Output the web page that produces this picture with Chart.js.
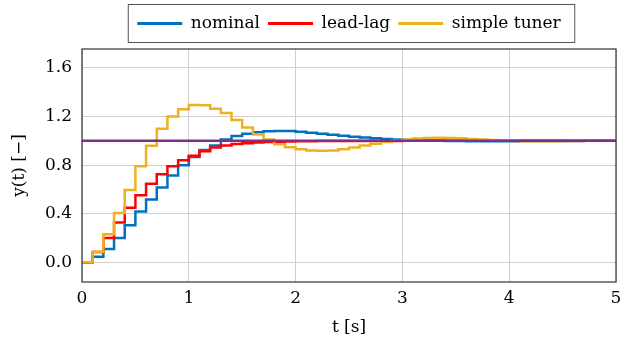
<!DOCTYPE html>
<html>
<head>
<meta charset="utf-8">
<script src="https://cdn.jsdelivr.net/npm/chart.js@4.4.0/dist/chart.umd.min.js"></script>
<style>
  html, body { margin: 0; padding: 0; background: #fff; }
  #wrap { width: 620px; height: 347px; }
</style>
</head>
<body>
<div id="wrap"><canvas id="stepChart"></canvas></div>
<script>
// sample times [s], one sample every 0.1 s
const time = [0, 0.1, 0.2, 0.3, 0.4, 0.5, 0.6, 0.7, 0.8, 0.9,
  1.0, 1.1, 1.2, 1.3, 1.4, 1.5, 1.6, 1.7, 1.8, 1.9,
  2.0, 2.1, 2.2, 2.3, 2.4, 2.5, 2.6, 2.7, 2.8, 2.9,
  3.0, 3.1, 3.2, 3.3, 3.4, 3.5, 3.6, 3.7, 3.8, 3.9,
  4.0, 4.1, 4.2, 4.3, 4.4, 4.5, 4.6, 4.7, 4.8, 4.9, 5.0];

const nominal = [0, 0.045, 0.11, 0.20, 0.305, 0.418, 0.518, 0.616, 0.714, 0.800,
  0.867, 0.925, 0.962, 1.012, 1.040, 1.058, 1.070, 1.078, 1.081, 1.080,
  1.075, 1.067, 1.059, 1.050, 1.042, 1.034, 1.027, 1.021, 1.016, 1.011,
  1.007, 1.004, 1.002, 1.000, 0.999, 0.998, 0.997, 0.997, 0.997, 0.997,
  0.997, 0.998, 0.998, 0.998, 0.999, 0.999, 0.999, 1.000, 1.000, 1.000, 1.000];

const leadLag = [0, 0.085, 0.200, 0.328, 0.450, 0.553, 0.646, 0.725, 0.790, 0.840,
  0.877, 0.915, 0.945, 0.962, 0.973, 0.981, 0.986, 0.990, 0.993, 0.995,
  0.996, 0.997, 0.998, 0.998, 0.999, 0.999, 0.999, 0.999, 0.999, 0.999,
  1.000, 1.000, 1.000, 1.000, 1.000, 1.000, 1.000, 1.000, 1.000, 1.000,
  1.000, 1.000, 1.000, 1.000, 1.000, 1.000, 1.000, 1.000, 1.000, 1.000, 1.000];

const simpleTuner = [0, 0.085, 0.232, 0.407, 0.595, 0.790, 0.960, 1.100, 1.200, 1.260,
  1.295, 1.293, 1.265, 1.230, 1.172, 1.110, 1.052, 1.010, 0.972, 0.948,
  0.930, 0.921, 0.918, 0.921, 0.931, 0.945, 0.962, 0.977, 0.990, 1.002,
  1.012, 1.019, 1.023, 1.025, 1.024, 1.021, 1.016, 1.011, 1.006, 1.002,
  0.999, 0.997, 0.996, 0.996, 0.997, 0.998, 0.999, 1.000, 1.000, 1.001, 1.001];

const refTime = [0, 5];
const reference = [1, 1];

const xTicks = [0, 1, 2, 3, 4, 5];
const yTicks = [0, 0.4, 0.8, 1.2, 1.6];

function toPoints(xs, ys) {
  return xs.map((x, i) => ({ x: x, y: ys[i] }));
}

const serif = 'DejaVu Serif';

// extra room under the legend, so the plot starts a bit lower
const legendGap = {
  id: 'legendGap',
  afterInit(chart) {
    const lg = chart.legend;
    const fit = lg.fit;
    lg.fit = function () {
      fit.call(this);
      this.height += 7;
    };
  }
};

// box around the plot area and around the legend
const frameBox = {
  id: 'frameBox',
  afterDraw(chart) {
    const ctx = chart.ctx;
    const a = chart.chartArea;
    ctx.save();
    ctx.strokeStyle = '#333';
    ctx.lineWidth = 1.2;
    ctx.strokeRect(a.left, a.top, a.right - a.left, a.bottom - a.top);

    const hb = chart.legend.legendHitBoxes;
    if (hb && hb.length) {
      const l = Math.min(...hb.map(b => b.left));
      const r = Math.max(...hb.map(b => b.left + b.width));
      const cy = hb[0].top + hb[0].height / 2;
      ctx.strokeStyle = '#555';
      ctx.lineWidth = 1;
      ctx.strokeRect(l - 9, cy - 19, r - l + 23, 38);
    }
    ctx.restore();
  }
};

const ctx = document.getElementById('stepChart').getContext('2d');
new Chart(ctx, {
  type: 'line',
  data: {
    datasets: [
      {
        label: 'nominal',
        data: toPoints(time, nominal),
        borderColor: '#0072BD',
        backgroundColor: '#0072BD',
        borderWidth: 2.5,
        stepped: true,
        pointRadius: 0,
        order: 3
      },
      {
        label: 'lead-lag',
        data: toPoints(time, leadLag),
        borderColor: '#FF0000',
        backgroundColor: '#FF0000',
        borderWidth: 2.5,
        stepped: true,
        pointRadius: 0,
        order: 2
      },
      {
        label: 'simple tuner',
        data: toPoints(time, simpleTuner),
        borderColor: '#EDB120',
        backgroundColor: '#EDB120',
        borderWidth: 2.5,
        stepped: true,
        pointRadius: 0,
        order: 1
      },
      {
        label: 'reference',
        data: toPoints(refTime, reference),
        borderColor: '#7E2F8E',
        backgroundColor: '#7E2F8E',
        borderWidth: 2.5,
        pointRadius: 0,
        order: 0
      }
    ]
  },
  options: {
    responsive: true,
    maintainAspectRatio: false,
    animation: false,
    layout: { padding: { left: 0, right: 4, top: 7, bottom: 0 } },
    plugins: {
      tooltip: { enabled: false },
      legend: {
        position: 'top',
        fullSize: false,
        labels: {
          boxWidth: 45,
          boxHeight: 3,
          padding: 8,
          color: '#000',
          font: { family: serif, size: 17 },
          filter: item => item.datasetIndex < 3,
          sort: (a, b) => a.datasetIndex - b.datasetIndex,
          generateLabels(chart) {
            const items = Chart.defaults.plugins.legend.labels.generateLabels(chart);
            items.forEach(it => { it.lineWidth = 0; });
            return items;
          }
        }
      }
    },
    scales: {
      x: {
        type: 'linear',
        min: 0,
        max: 5,
        afterBuildTicks: s => { s.ticks = xTicks.map(v => ({ value: v })); },
        afterFit: s => { s.paddingRight = 0; s.paddingLeft = 0; s.height = 65; },
        grid: { color: '#cfcfcf', lineWidth: 1, drawTicks: false },
        border: { display: false },
        ticks: {
          color: '#000',
          padding: 6,
          maxRotation: 0,
          font: { family: serif, size: 17 },
          callback: v => String(v)
        },
        title: {
          display: true,
          text: 't [s]',
          color: '#000',
          font: { family: serif, size: 17 },
          padding: { top: 0, bottom: 9 }
        }
      },
      y: {
        type: 'linear',
        min: -0.162,
        max: 1.756,
        afterBuildTicks: s => { s.ticks = yTicks.map(v => ({ value: v })); },
        afterFit: s => { s.width = 82; s.paddingTop = 0; s.paddingBottom = 0; },
        grid: { color: '#cfcfcf', lineWidth: 1, drawTicks: false },
        border: { display: false },
        ticks: {
          color: '#000',
          padding: 10,
          font: { family: serif, size: 17 },
          callback: v => Number(v).toFixed(1)
        },
        title: {
          display: true,
          text: 'y(t) [−]',
          color: '#000',
          font: { family: serif, size: 17 },
          padding: { top: 9, bottom: 0 }
        }
      }
    }
  },
  plugins: [legendGap, frameBox]
});
</script>
</body>
</html>
